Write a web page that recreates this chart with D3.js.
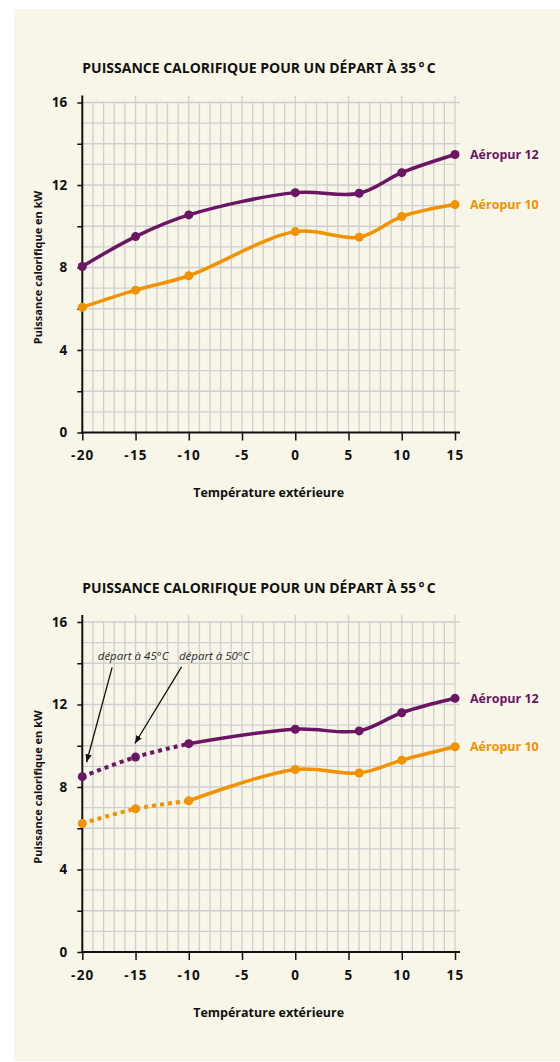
<!DOCTYPE html>
<html>
<head>
<meta charset="utf-8">
<script src="https://cdn.jsdelivr.net/npm/d3@7"></script>
<style>
  html, body { margin: 0; padding: 0; background: #fff; }
  svg { display: block; font-family: "Open Sans", "Noto Sans", sans-serif; }
</style>
</head>
<body>
<div class="charts"></div>
<script>
// Outdoor temperatures (x values of the points)
const temps = [-20, -15, -10, 0, 6, 10, 15];

// Heat output in kW, 35 °C flow
const aeropur12_35 = [8.05, 9.5, 10.55, 11.63, 11.6, 12.6, 13.48];
const aeropur10_35 = [6.07, 6.9, 7.6, 9.74, 9.47, 10.47, 11.05];

// Heat output in kW, 55 °C flow
const aeropur12_55 = [8.5, 9.45, 10.1, 10.8, 10.72, 11.6, 12.3];
const aeropur10_55 = [6.23, 6.94, 7.33, 8.85, 8.68, 9.3, 9.95];

// Tick labels
const xTicks = [-20, -15, -10, -5, 0, 5, 10, 15];
const yTicks = [0, 4, 8, 12, 16];

const seriesNames = ["Aéropur 12", "Aéropur 10"];

// annotations of the 55 °C chart (in data units)
const notes55 = [
  { text: "départ à 45°C", tx: -18.55, ty: 14.33, x1: -17.2, y1: 13.8, x2: -19.6, y2: 9.2 },
  { text: "départ à 50°C", tx: -10.93, ty: 14.33, x1: -10.68, y1: 13.82, x2: -15.06, y2: 10.11 }
];

const colors = { "Aéropur 12": "#6b1564", "Aéropur 10": "#f39200" };

const W = 560, H = 1062;

const svg = d3
  .select(".charts")
  .append("svg")
  .attr("width", W)
  .attr("height", H);

svg.append("rect")
  .attr("x", 14).attr("y", 9)
  .attr("width", W - 14).attr("height", 1052)
  .attr("fill", "#f8f6e9");

// arrow head
svg.append("defs").append("marker")
  .attr("id", "arrow")
  .attr("viewBox", "0 0 10 10")
  .attr("refX", 10).attr("refY", 5)
  .attr("markerWidth", 8).attr("markerHeight", 8)
  .attr("markerUnits", "userSpaceOnUse")
  .attr("orient", "auto")
  .append("path")
  .attr("d", "M0,1 L10,5 L0,9 Z")
  .attr("fill", "#111");

const x = d3.scaleLinear().domain([-20, 15]).range([82.3, 455]);
const plotH = 330;

function drawChart(offsetY, title, s12, s10, dottedUntil, notes) {
  const top = 102.5;
  const y = d3.scaleLinear().domain([0, 16]).range([top + plotH, top]);
  const g = svg.append("g").attr("transform", `translate(0,${offsetY})`);

  // title
  g.append("text")
    .attr("x", 259).attr("y", 73)
    .attr("text-anchor", "middle")
    .attr("font-size", 14).attr("font-weight", 700)
    .attr("fill", "#111")
    .text(title);

  // grid
  const grid = g.append("g").attr("stroke", "#cfcfcf").attr("stroke-width", 1.3);
  d3.range(1, 17).forEach(v => {
    grid.append("line")
      .attr("x1", x(-20)).attr("x2", x(15) + (v % 2 === 0 ? 5 : 0))
      .attr("y1", y(v)).attr("y2", y(v));
  });
  d3.range(-19, 16).forEach(v => {
    grid.append("line")
      .attr("x1", x(v)).attr("x2", x(v))
      .attr("y1", y(16) - (v % 5 === 0 ? 7 : 0)).attr("y2", y(0));
  });

  // y axis
  const yAxis = g.append("g")
    .attr("transform", `translate(${x(-20)},0)`)
    .call(d3.axisLeft(y)
      .tickValues(d3.range(0, 17, 2))
      .tickSize(5).tickSizeOuter(0).tickPadding(10)
      .tickFormat(d => yTicks.includes(d) ? d : ""));
  yAxis.select(".domain").remove();
  yAxis.selectAll("line").attr("stroke", "#111").attr("stroke-width", 1.5);
  yAxis.selectAll("text")
    .attr("font-size", 13.5).attr("font-weight", 700).attr("fill", "#111")
    .attr("font-family", "'Open Sans', sans-serif");
  g.append("line")
    .attr("x1", x(-20)).attr("x2", x(-20))
    .attr("y1", y(16) - 7).attr("y2", y(0) + 1)
    .attr("stroke", "#111").attr("stroke-width", 2);

  // x axis
  const xAxis = g.append("g")
    .attr("transform", `translate(0,${y(0)})`)
    .call(d3.axisBottom(x).tickValues(xTicks).tickSize(8).tickSizeOuter(0).tickPadding(10)
      .tickFormat(d => String(d)));
  xAxis.select(".domain").remove();
  xAxis.selectAll("line").attr("stroke", "#111").attr("stroke-width", 1.5);
  xAxis.selectAll("text")
    .attr("font-size", 13.5).attr("font-weight", 700).attr("fill", "#111")
    .attr("letter-spacing", 1.2)
    .attr("font-family", "'Open Sans', sans-serif");
  g.append("line")
    .attr("x1", x(-20) - 1).attr("x2", x(15) + 5)
    .attr("y1", y(0)).attr("y2", y(0))
    .attr("stroke", "#111").attr("stroke-width", 2);

  // axis titles
  g.append("text")
    .attr("x", (x(-20) + x(15)) / 2).attr("y", 497)
    .attr("text-anchor", "middle")
    .attr("font-size", 12.5).attr("font-weight", 700).attr("fill", "#111")
    .text("Température extérieure");
  g.append("text")
    .attr("transform", `translate(42,${(y(0) + y(16)) / 2}) rotate(-90)`)
    .attr("text-anchor", "middle")
    .attr("font-size", 11).attr("font-weight", 700).attr("fill", "#111")
    .text("Puissance calorifique en kW");

  // series
  const line = d3.line()
    .x(d => x(d[0])).y(d => y(d[1]))
    .curve(d3.curveCatmullRom.alpha(0.5));

  [[seriesNames[0], s12], [seriesNames[1], s10]].forEach(([name, vals]) => {
    const pts = temps.map((t, i) => [t, vals[i]]);
    const col = colors[name];
    if (dottedUntil > 0) {
      g.append("path")
        .attr("d", line(pts.slice(0, dottedUntil + 1)))
        .attr("fill", "none").attr("stroke", col)
        .attr("stroke-width", 4).attr("stroke-dasharray", "4,4");
    }
    g.append("path")
      .attr("d", line(pts.slice(dottedUntil)))
      .attr("fill", "none").attr("stroke", col)
      .attr("stroke-width", 3.5).attr("stroke-linejoin", "round");
    g.selectAll(null)
      .data(pts)
      .join("circle")
      .attr("cx", d => x(d[0])).attr("cy", d => y(d[1]))
      .attr("r", 4.5).attr("fill", col);
    const last = pts[pts.length - 1];
    g.append("text")
      .attr("x", x(last[0]) + 15).attr("y", y(last[1]))
      .attr("dy", "0.35em")
      .attr("font-size", 12.5).attr("font-weight", 700)
      .attr("fill", col)
      .text(name);
  });

  // annotations
  (notes || []).forEach(n => {
    g.append("text")
      .attr("x", x(n.tx)).attr("y", y(n.ty))
      .attr("dy", "0.35em")
      .attr("font-size", 11.5).attr("font-style", "italic").attr("font-weight", 400)
      .attr("fill", "#2a2a2a")
      .text(n.text);
    g.append("line")
      .attr("x1", x(n.x1)).attr("y1", y(n.y1))
      .attr("x2", x(n.x2)).attr("y2", y(n.y2))
      .attr("stroke", "#111").attr("stroke-width", 1.3)
      .attr("marker-end", "url(#arrow)");
  });
}

drawChart(0, "PUISSANCE CALORIFIQUE POUR UN DÉPART À 35\u2009°\u2009C", aeropur12_35, aeropur10_35, 0, null);
drawChart(519.5, "PUISSANCE CALORIFIQUE POUR UN DÉPART À 55\u2009°\u2009C", aeropur12_55, aeropur10_55, 2, notes55);
</script>
</body>
</html>
